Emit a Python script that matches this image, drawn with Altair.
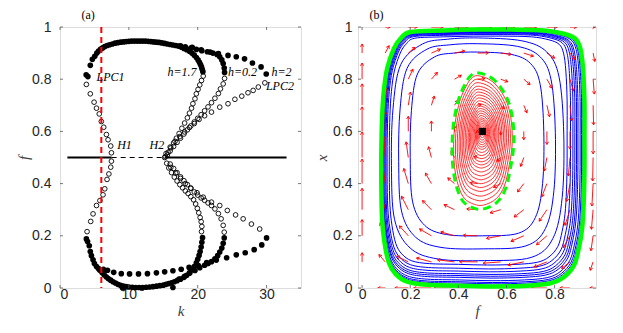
import math
import altair as alt
import pandas as pd

# ================= Panel (a): values =================
# stable limit-cycle extrema (filled circles)
ST_TOP_K = [3.8, 4.05, 4.4, 4.7, 5.05, 5.35, 5.6, 5.9, 6.2, 6.5, 6.85, 7.2, 7.6, 8.0, 8.4, 8.8, 9.2, 9.6,
            10.0, 10.4, 10.8, 11.2, 11.6, 12.0, 12.4, 12.8, 13.2, 13.6, 14.0, 14.4, 14.8, 15.2, 15.6, 16.0, 16.4, 16.8]
ST_TOP_F = [0.817, 0.81, 0.853, 0.876, 0.888, 0.9, 0.908, 0.915, 0.92, 0.925, 0.929, 0.932, 0.935, 0.938, 0.94,
            0.942, 0.943, 0.944, 0.945, 0.946, 0.946, 0.946, 0.946, 0.946, 0.946, 0.945, 0.944, 0.943, 0.942, 0.941,
            0.939, 0.937, 0.935, 0.933, 0.931, 0.929]
ST_H17_TOP_K = [17.2, 17.6, 18.0, 18.4, 18.8, 19.15, 19.5, 19.8, 20.05, 20.25, 20.4, 20.55, 20.65, 20.75]
ST_H17_TOP_F = [0.927, 0.923, 0.918, 0.913, 0.907, 0.9, 0.892, 0.883, 0.874, 0.865, 0.856, 0.847, 0.838, 0.829]
ST_H02_TOP_K = [17.5, 18.2, 19.0, 19.8, 20.6, 21.4, 22.2, 22.8, 23.2, 23.5, 23.7, 23.85, 23.9]
ST_H02_TOP_F = [0.928, 0.924, 0.919, 0.914, 0.909, 0.905, 0.9, 0.895, 0.886, 0.874, 0.86, 0.843, 0.826]
ST_H2_TOP_K = [19.2, 20.5, 21.8, 23.0, 24.4, 25.6, 26.8, 27.95, 29.2, 29.95]
ST_H2_TOP_F = [0.922, 0.913, 0.904, 0.898, 0.891, 0.886, 0.878, 0.862, 0.847, 0.82]

ST_LOW_K = [3.83, 4.0, 4.25, 4.4, 4.56, 4.8, 5.0, 5.3, 5.6]
ST_LOW_F = [0.188, 0.178, 0.162, 0.14, 0.124, 0.108, 0.094, 0.082, 0.074]
ST_BOT_K = [5.8, 6.1, 6.4, 6.7, 7.0, 7.35, 7.7, 8.05, 8.4, 8.8, 9.2, 9.6, 10.0, 10.5, 11.0, 11.5, 12.0, 12.5,
            13.0, 13.5, 14.0, 14.5, 15.0, 15.4, 15.8, 16.2, 16.6, 9.1, 11.9, 16.4]
ST_BOT_F = [0.068, 0.059, 0.051, 0.043, 0.036, 0.03, 0.024, 0.019, 0.014, 0.01, 0.007, 0.005, 0.004, 0.003,
            0.002, 0.002, 0.002, 0.003, 0.004, 0.005, 0.007, 0.009, 0.011, 0.014, 0.017, 0.02, 0.024, 0.0, 0.0, 0.002]
ST_H17_LOW_K = [17.0, 17.5, 18.0, 18.4, 18.8, 19.2, 19.5, 19.8, 20.0, 20.2, 20.35, 20.5, 20.6, 20.7]
ST_H17_LOW_F = [0.028, 0.034, 0.041, 0.049, 0.058, 0.07, 0.082, 0.096, 0.11, 0.125, 0.14, 0.157, 0.175, 0.193]
ST_H02_LOW_K = [17.3, 18.1, 18.85, 19.6, 20.3, 21.0, 21.5, 22.0, 22.5, 22.9, 23.2, 23.5, 23.7, 23.85]
ST_H02_LOW_F = [0.034, 0.045, 0.057, 0.067, 0.078, 0.087, 0.094, 0.101, 0.112, 0.124, 0.138, 0.153, 0.171, 0.192]
ST_H2_LOW_K = [6.3, 6.9, 7.8, 8.9, 10.1, 11.4, 12.7, 14.0, 15.2, 16.4, 17.6, 18.75, 20.1, 21.3, 22.7, 24.2,
               25.6, 26.9, 28.2, 29.3, 30.0]
ST_H2_LOW_F = [0.072, 0.068, 0.06, 0.055, 0.054, 0.054, 0.055, 0.058, 0.062, 0.066, 0.072, 0.079, 0.086, 0.097,
               0.107, 0.116, 0.127, 0.135, 0.147, 0.165, 0.192]

# unstable limit-cycle extrema (open circles)
UN_LPC1_K = [3.83, 4.4, 4.95, 5.3, 5.7, 6.0, 6.35, 6.74, 6.98, 7.37, 7.47, 7.47, 7.37, 7.1, 6.83, 6.5, 6.25,
             5.8, 5.3, 4.8, 4.46, 3.93]
UN_LPC1_F = [0.78, 0.744, 0.712, 0.689, 0.667, 0.638, 0.616, 0.588, 0.568, 0.544, 0.518, 0.486, 0.463, 0.437,
             0.416, 0.38, 0.357, 0.335, 0.316, 0.284, 0.255, 0.216]
UN_H17_K = [20.8, 20.55, 20.3, 20.05, 19.8, 19.6, 19.3, 19.1, 18.8, 18.5, 18.1, 17.7, 17.3, 16.9, 16.5, 16.1,
            15.7, 15.3, 15.5, 15.8, 16.2, 16.6, 17.0, 17.4, 17.8, 18.2, 18.6, 19.0, 19.4, 19.7, 19.95, 20.15,
            20.35, 20.5, 20.6, 20.55]
UN_H17_F = [0.812, 0.795, 0.778, 0.761, 0.744, 0.725, 0.706, 0.689, 0.67, 0.652, 0.632, 0.612, 0.592, 0.574,
            0.556, 0.537, 0.52, 0.503, 0.478, 0.46, 0.442, 0.425, 0.41, 0.396, 0.384, 0.372, 0.362, 0.35, 0.338,
            0.322, 0.305, 0.288, 0.27, 0.254, 0.236, 0.216]
UN_H02_K = [23.9, 23.7, 23.3, 23.0, 22.5, 22.0, 21.5, 21.0, 20.5, 20.0, 19.5, 19.0, 18.5, 18.0, 17.5, 17.0,
            16.5, 16.0, 15.6, 16.0, 16.5, 17.0, 17.5, 18.0, 18.5, 19.0, 19.5, 20.0, 20.5, 21.0, 21.5, 22.0,
            22.5, 23.0, 23.4, 23.7, 23.85]
UN_H02_F = [0.803, 0.782, 0.763, 0.745, 0.727, 0.71, 0.694, 0.679, 0.664, 0.65, 0.636, 0.621, 0.606, 0.59,
            0.574, 0.558, 0.542, 0.525, 0.51, 0.475, 0.458, 0.442, 0.426, 0.411, 0.396, 0.382, 0.368, 0.356,
            0.345, 0.336, 0.326, 0.316, 0.303, 0.285, 0.265, 0.24, 0.214]
UN_H2_K = [29.75, 28.8, 28.05, 27.3, 26.4, 25.4, 24.4, 23.2, 22.0, 21.0, 20.2, 19.5, 18.8, 18.1, 17.4, 16.7,
           16.0, 15.4, 15.2, 16.1, 16.8, 17.5, 18.2, 19.0, 19.9, 20.8, 22.0, 23.2, 24.3, 25.5, 26.6, 27.8, 29.0]
UN_H2_F = [0.786, 0.77, 0.757, 0.748, 0.735, 0.723, 0.706, 0.693, 0.674, 0.66, 0.646, 0.63, 0.615, 0.598,
           0.58, 0.562, 0.54, 0.515, 0.5, 0.462, 0.44, 0.42, 0.4, 0.383, 0.365, 0.348, 0.329, 0.316, 0.297,
           0.28, 0.265, 0.245, 0.226]

EQ_F = 0.5
EQ_SOLID_K = [[1.07, 7.5], [15.2, 32.9]]
EQ_DASH_K = [7.5, 15.2]
VLINE_K = 6.0

LABELS_A = ["LPC1", "h=1.7", "h=0.2", "h=2", "LPC2", "H1", "H2"]
LABELS_A_K = [5.3, 15.6, 24.4, 30.7, 29.9, 8.3, 13.0]
LABELS_A_F = [0.808, 0.827, 0.827, 0.827, 0.774, 0.546, 0.549]

XTICKS_A = [0, 10, 20, 30]
YTICKS = [0, 0.2, 0.4, 0.6, 0.8, 1]

# ================= Panel (b): phase portrait =================
# outer stable limit cycle (green)
GREEN_F = [0.201, 0.339, 0.478, 0.616, 0.755, 0.838, 0.886, 0.907, 0.918, 0.924, 0.924, 0.924, 0.921, 0.914,
           0.900, 0.880, 0.838, 0.783, 0.686, 0.547, 0.409, 0.270, 0.187, 0.139, 0.111, 0.093, 0.083, 0.080,
           0.080, 0.083, 0.090, 0.104, 0.132, 0.159]
GREEN_X = [0.981, 0.987, 0.990, 0.990, 0.987, 0.974, 0.955, 0.917, 0.840, 0.712, 0.584, 0.457, 0.329, 0.226,
           0.150, 0.086, 0.041, 0.018, 0.009, 0.006, 0.009, 0.012, 0.024, 0.054, 0.098, 0.175, 0.265, 0.393,
           0.520, 0.648, 0.751, 0.840, 0.917, 0.955]
# innermost blue trajectory (rounder outline)
INNER_F = [0.48, 0.62, 0.70, 0.74, 0.755, 0.75, 0.72, 0.65, 0.50, 0.35, 0.26, 0.21, 0.20, 0.205, 0.23, 0.30, 0.38]
INNER_X = [0.904, 0.895, 0.86, 0.78, 0.60, 0.40, 0.27, 0.21, 0.20, 0.205, 0.24, 0.33, 0.50, 0.68, 0.82, 0.885, 0.90]
# inner unstable limit cycle (dashed green)
ELL_F = [0.478, 0.533, 0.575, 0.609, 0.627, 0.630, 0.616, 0.596, 0.561, 0.506, 0.464, 0.422, 0.395, 0.378,
         0.374, 0.381, 0.402, 0.429, 0.450]
ELL_X = [0.825, 0.808, 0.770, 0.712, 0.636, 0.546, 0.457, 0.380, 0.329, 0.303, 0.306, 0.329, 0.380, 0.457,
         0.546, 0.636, 0.725, 0.783, 0.812]
# extents (left, right, bottom, top) of the blue trajectories, and which outline they follow
BLUE_L = [0.200, 0.152, 0.122, 0.113, 0.104, 0.099, 0.095, 0.091, 0.089, 0.086, 0.084, 0.083]
BLUE_R = [0.755, 0.803, 0.838, 0.852, 0.866, 0.876, 0.884, 0.891, 0.897, 0.906, 0.912, 0.917]
BLUE_B = [0.200, 0.150, 0.105, 0.088, 0.073, 0.062, 0.052, 0.045, 0.038, 0.028, 0.021, 0.016]
BLUE_T = [0.904, 0.936, 0.958, 0.965, 0.971, 0.974, 0.977, 0.979, 0.981, 0.984, 0.986, 0.987]
BLUE_SHAPE = ["inner", "inner", "inner", "outer", "outer", "outer", "outer", "outer", "outer", "outer", "outer",
              "outer"]
# relative sizes of the red spiral turns around the focus
RED_S = [0.95, 0.89, 0.83, 0.77, 0.72, 0.67, 0.62, 0.57, 0.52, 0.47, 0.43, 0.39, 0.35, 0.31, 0.27, 0.23,
         0.2, 0.17, 0.14, 0.11, 0.08, 0.05]
FOCUS = (0.5, 0.6)

# direction field (arrow tail positions and components)
Q_F = [0.0, 0.096, 0.192, 0.288, 0.384, 0.48, 0.576, 0.672, 0.768, 0.864, 0.96]
Q_X = [0.0, 0.1, 0.2, 0.3, 0.4, 0.5, 0.6, 0.7, 0.8, 0.9, 1.0]
Q_U = [
    [0, -.031, -.056, -.074, -.085, -.090, -.088, -.079, -.064, -.042, -.014],
    [0, -.026, -.047, -.062, -.071, -.075, -.073, -.066, -.053, -.035, -.012],
    [0, -.021, -.037, -.049, -.057, -.060, -.059, -.053, -.043, -.028, -.009],
    [0, -.016, -.028, -.037, -.043, -.045, -.044, -.040, -.032, -.021, -.007],
    [0, -.010, -.019, -.025, -.028, -.030, -.029, -.026, -.021, -.014, -.005],
    [0, -.005, -.009, -.012, -.014, -.015, -.015, -.013, -.011, -.007, -.002],
    [0, 0, 0, 0, 0, 0, 0, 0, 0, 0, 0],
    [0, .005, .009, .012, .014, .015, .015, .013, .011, .007, .002],
    [0, .010, .019, .025, .028, .030, .029, .026, .021, .014, .005],
    [0, .016, .028, .037, .043, .045, .044, .040, .032, .021, .007],
    [0, .021, .037, .049, .057, .060, .059, .053, .043, .028, .009],
]
Q_W = [
    [0, 0, 0, 0, 0, 0, 0, 0, 0, 0, 0],
    [.035, .028, .022, .015, .008, .001, -.005, -.012, -.019, -.025, -.032],
    [.062, .050, .038, .026, .015, .002, -.010, -.021, -.034, -.045, -.057],
    [.082, .066, .051, .035, .019, .003, -.012, -.028, -.044, -.060, -.075],
    [.094, .076, .058, .040, .022, .004, -.014, -.032, -.050, -.068, -.086],
    [.098, .079, .060, .041, .023, .004, -.015, -.034, -.052, -.071, -.090],
    [.094, .076, .058, .040, .022, .004, -.014, -.032, -.050, -.068, -.086],
    [.082, .066, .051, .035, .019, .003, -.012, -.028, -.044, -.060, -.075],
    [.062, .050, .038, .026, .015, .002, -.010, -.021, -.034, -.045, -.057],
    [.035, .028, .022, .015, .008, .001, -.005, -.012, -.019, -.025, -.032],
    [0, 0, 0, 0, 0, 0, 0, 0, 0, 0, 0],
]
XTICKS_B = [0, 0.2, 0.4, 0.6, 0.8]

# ================= styling =================
SANS = "Liberation Sans"
SERIF = "Liberation Serif"
WA, WB, H = 241, 238, 261
XB_DOM = [-0.017, 0.972]
PXB_X = WB / (XB_DOM[1] - XB_DOM[0])
PXB_Y = H / 1.0

# ================= build tables =================
def pts(ks, fs):
    return pd.DataFrame({"k": ks, "f": fs})

stable = pd.concat([
    pts(ST_TOP_K, ST_TOP_F), pts(ST_H17_TOP_K, ST_H17_TOP_F), pts(ST_H02_TOP_K, ST_H02_TOP_F),
    pts(ST_H2_TOP_K, ST_H2_TOP_F), pts(ST_LOW_K, ST_LOW_F), pts(ST_BOT_K, ST_BOT_F),
    pts(ST_H17_LOW_K, ST_H17_LOW_F), pts(ST_H02_LOW_K, ST_H02_LOW_F), pts(ST_H2_LOW_K, ST_H2_LOW_F),
])
unstable = pd.concat([
    pts(UN_LPC1_K, UN_LPC1_F), pts(UN_H17_K, UN_H17_F), pts(UN_H02_K, UN_H02_F), pts(UN_H2_K, UN_H2_F),
])
solid = pd.DataFrame({"k1": [s[0] for s in EQ_SOLID_K], "k2": [s[1] for s in EQ_SOLID_K], "f": EQ_F})
dash = pd.DataFrame({"k1": [EQ_DASH_K[0]], "k2": [EQ_DASH_K[1]], "f": [EQ_F]})
vline = pd.DataFrame({"k": [VLINE_K]})
labels_a = pd.DataFrame({"t": LABELS_A, "k": LABELS_A_K, "f": LABELS_A_F})

xsc_a = alt.Scale(domain=[0, 35], nice=False, zero=False)
ysc = alt.Scale(domain=[0, 1], nice=False, zero=False)


def yaxis(title, lp, tp):
    return alt.Axis(values=YTICKS, format="~g", ticks=False, tickSize=0, domain=False, grid=False,
                    labelFont=SANS, labelFontSize=14, labelColor="#262626", labelPadding=lp,
                    title=title, titleFont=SERIF, titleFontStyle="italic", titleFontWeight="normal",
                    titleFontSize=15, titleColor="#404040", titlePadding=tp)


def xaxis(vals, title):
    return alt.Axis(values=vals, format="~g", ticks=False, tickSize=0, domain=False, grid=False,
                    labelFont=SANS, labelFontSize=14, labelColor="#262626", labelPadding=-1,
                    title=title, titleFont=SERIF, titleFontStyle="italic", titleFontWeight="normal",
                    titleFontSize=15, titleColor="#404040", titlePadding=2)


def inner_ticks(xvals, xsc, w, h):
    tx = pd.DataFrame({"v": xvals})
    ty = pd.DataFrame({"v": YTICKS})
    c = "#555555"
    return [
        alt.Chart(tx).mark_rule(color=c, strokeWidth=0.8).encode(x=alt.X("v:Q", scale=xsc), y=alt.value(h), y2=alt.value(h - 3)),
        alt.Chart(tx).mark_rule(color=c, strokeWidth=0.8).encode(x=alt.X("v:Q", scale=xsc), y=alt.value(0), y2=alt.value(3)),
        alt.Chart(ty).mark_rule(color=c, strokeWidth=0.8).encode(y=alt.Y("v:Q", scale=ysc), x=alt.value(0), x2=alt.value(3)),
        alt.Chart(ty).mark_rule(color=c, strokeWidth=0.8).encode(y=alt.Y("v:Q", scale=ysc), x=alt.value(w), x2=alt.value(w - 3)),
    ]


base_a = alt.Chart(stable).mark_point(filled=True, color="black", size=32, opacity=1).encode(
    x=alt.X("k:Q", scale=xsc_a, axis=xaxis(XTICKS_A, "k")),
    y=alt.Y("f:Q", scale=ysc, axis=yaxis("f", 9, 0)),
)
open_a = alt.Chart(unstable).mark_point(filled=False, color="black", size=22, strokeWidth=0.9, opacity=1).encode(
    x=alt.X("k:Q", scale=xsc_a), y=alt.Y("f:Q", scale=ysc))
solid_a = alt.Chart(solid).mark_rule(color="black", strokeWidth=1.8).encode(
    x=alt.X("k1:Q", scale=xsc_a), x2="k2:Q", y=alt.Y("f:Q", scale=ysc))
dash_a = alt.Chart(dash).mark_rule(color="black", strokeWidth=1.0, strokeDash=[5, 4]).encode(
    x=alt.X("k1:Q", scale=xsc_a), x2="k2:Q", y=alt.Y("f:Q", scale=ysc))
vline_a = alt.Chart(vline).mark_rule(color="#ff0000", strokeWidth=2, strokeDash=[6, 4]).encode(
    x=alt.X("k:Q", scale=xsc_a))
text_a = alt.Chart(labels_a).mark_text(font=SERIF, fontStyle="italic", fontSize=12, align="left",
                                       baseline="middle", color="black").encode(
    x=alt.X("k:Q", scale=xsc_a), y=alt.Y("f:Q", scale=ysc), text="t:N")

panel_a = alt.layer(base_a, solid_a, dash_a, open_a, vline_a, text_a, *inner_ticks(XTICKS_A, xsc_a, WA, H)).properties(
    width=WA, height=H,
    title=alt.TitleParams("(a)", anchor="start", dx=65, font=SERIF, fontSize=12, fontWeight="normal",
                          color="black", offset=-2))

# ----- panel (b) tables -----
def outline_box(fs, xs):
    return min(fs), max(fs), min(xs), max(xs)

templates = {"outer": (GREEN_F, GREEN_X), "inner": (INNER_F, INNER_X)}
blue_rows = []
for ci, (L, R, B, T, shp) in enumerate(zip(BLUE_L, BLUE_R, BLUE_B, BLUE_T, BLUE_SHAPE)):
    tf, tx = templates[shp]
    f0, f1, x0, x1 = outline_box(tf, tx)
    for i, (gf, gx) in enumerate(zip(tf, tx)):
        blue_rows.append({"c": ci, "i": i,
                          "f": L + (gf - f0) / (f1 - f0) * (R - L),
                          "x": B + (gx - x0) / (x1 - x0) * (T - B)})
blue = pd.DataFrame(blue_rows)
red_rows = []
for ci, s in enumerate(RED_S):
    for i, (ef, ex) in enumerate(zip(ELL_F, ELL_X)):
        red_rows.append({"c": ci, "i": i, "f": FOCUS[0] + s * (ef - FOCUS[0]), "x": FOCUS[1] + s * (ex - FOCUS[1])})
red = pd.DataFrame(red_rows)
green = pd.DataFrame({"c": 0, "i": range(len(GREEN_F)), "f": GREEN_F, "x": GREEN_X})
ell = pd.DataFrame({"c": 0, "i": range(len(ELL_F)), "f": ELL_F, "x": ELL_X})
focus = pd.DataFrame({"f": [FOCUS[0]], "x": [FOCUS[1]]})

arrows = []
for r, xv in enumerate(Q_X):
    for c, fv in enumerate(Q_F):
        u, w = Q_U[r][c], Q_W[r][c]
        if abs(u) + abs(w) < 0.003:
            continue
        ang = (math.degrees(math.atan2(u * PXB_X, w * PXB_Y)) + 360) % 360
        arrows.append({"f": fv, "x": xv, "fe": fv + u, "xe": xv + w, "ang": ang})
arrows = pd.DataFrame(arrows)

xsc_b = alt.Scale(domain=XB_DOM, nice=False, zero=False)

blue_l = alt.Chart(blue).mark_line(color="#0000ff", strokeWidth=1.0, interpolate="cardinal-closed", clip=True).encode(
    x=alt.X("f:Q", scale=xsc_b, axis=xaxis(XTICKS_B, "f")),
    y=alt.Y("x:Q", scale=ysc, axis=yaxis("x", 6, 3)),
    detail="c:N", order="i:Q")
arrow_l = alt.Chart(arrows).mark_rule(color="#ff0000", strokeWidth=0.9, clip=True).encode(
    x=alt.X("f:Q", scale=xsc_b), y=alt.Y("x:Q", scale=ysc), x2="fe:Q", y2="xe:Q")
arrow_h = alt.Chart(arrows).mark_point(shape="M-0.6,1L0,0L0.6,1", filled=False, color="#ff0000", size=30,
                                       strokeWidth=0.9, opacity=1, clip=True).encode(
    x=alt.X("fe:Q", scale=xsc_b), y=alt.Y("xe:Q", scale=ysc), angle=alt.Angle("ang:Q", scale=None))
green_l = alt.Chart(green).mark_line(color="#00ff00", strokeWidth=4.5, interpolate="cardinal-closed").encode(
    x=alt.X("f:Q", scale=xsc_b), y=alt.Y("x:Q", scale=ysc), detail="c:N", order="i:Q")
red_l = alt.Chart(red).mark_line(color="#ff0000", strokeWidth=0.8, interpolate="cardinal-closed").encode(
    x=alt.X("f:Q", scale=xsc_b), y=alt.Y("x:Q", scale=ysc), detail="c:N", order="i:Q")
ell_l = alt.Chart(ell).mark_line(color="#00ff00", strokeWidth=3, strokeDash=[8, 5], interpolate="cardinal-closed").encode(
    x=alt.X("f:Q", scale=xsc_b), y=alt.Y("x:Q", scale=ysc), detail="c:N", order="i:Q")
focus_p = alt.Chart(focus).mark_square(color="black", size=50, opacity=1).encode(
    x=alt.X("f:Q", scale=xsc_b), y=alt.Y("x:Q", scale=ysc))

panel_b = alt.layer(blue_l, arrow_l, arrow_h, green_l, red_l, ell_l, focus_p,
                    *inner_ticks(XTICKS_B, xsc_b, WB, H)).properties(
    width=WB, height=H,
    title=alt.TitleParams("(b)", anchor="start", dx=55, font=SERIF, fontSize=12, fontWeight="normal",
                          color="black", offset=-2))

chart = alt.hconcat(panel_a, panel_b, spacing=12).properties(
    padding={"left": 8, "top": 0, "right": 0, "bottom": 0}
).configure_view(stroke="#555555", strokeWidth=0.8).configure(background="white")

chart.save("out.html", embed_options={"renderer": "svg", "actions": False})
